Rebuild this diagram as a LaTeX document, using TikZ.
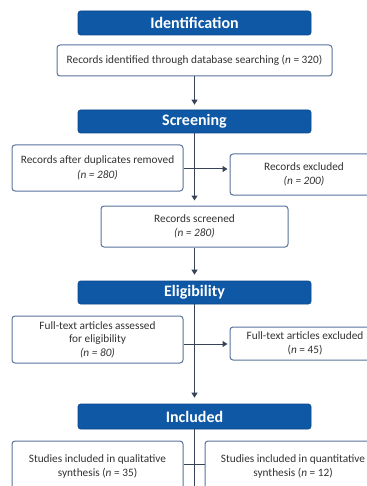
\documentclass[tikz,border=0pt]{standalone}
\usepackage{fontspec}
\setmainfont{Carlito}
\usetikzlibrary{arrows.meta}
\definecolor{banblue}{RGB}{14,88,166}
\definecolor{banedge}{RGB}{10,70,140}
\definecolor{boxedge}{RGB}{88,115,155}
\definecolor{linec}{RGB}{55,68,88}
\definecolor{txt}{RGB}{50,50,50}
\tikzset{
  banner/.style={draw=banedge, fill=banblue, rounded corners=2.5pt, line width=0.6pt,
    minimum width=233pt, inner sep=0pt, text=white, font=\fontsize{16}{18}\selectfont\bfseries},
  infobox/.style={draw=boxedge, fill=white, rounded corners=3pt, line width=1pt,
    inner sep=0pt, text=txt, align=center, font=\fontsize{11.3}{14.5}\selectfont},
  conn/.style={draw=linec, line width=1pt},
  arr/.style={conn, -{Triangle[width=6pt,length=5pt]}}
}
\begin{document}
\begin{tikzpicture}[x=1pt,y=-1pt]
\useasboundingbox (0,0) rectangle (366,486);
% banners
\node[banner, minimum height=24pt] (ident) at (194.5,23) {Identification};
\node[banner, minimum height=23pt] (screen) at (194.5,121.5) {Screening};
\node[banner, minimum height=23pt] (elig) at (194.5,292.5) {Eligibility};
\node[banner, minimum height=25pt] (incl) at (194.5,416.5) {Included};
% boxes
\node[infobox, minimum width=275pt, minimum height=31pt] (rec) at (194.5,60.5)
  {Records identified through database searching (\textit{n} = 320)};
\node[infobox, minimum width=171pt, minimum height=46pt] (dup) at (97.5,168)
  {Records after duplicates removed\\\textit{(n = 280)}};
\node[infobox, minimum width=148pt, minimum height=41pt] (exc1) at (304,174.5)
  {Records excluded\\\textit{(n = 200)}};
\node[infobox, minimum width=187pt, minimum height=41pt] (scr) at (194.5,226.5)
  {Records screened\\\textit{(n = 280)}};
\node[infobox, minimum width=171pt, minimum height=47pt,
  font=\fontsize{11.3}{13.5}\selectfont] (ass) at (97.5,339.5)
  {Full-text articles assessed\\for eligibility\\\textit{(n = 80)}};
\node[infobox, minimum width=150pt, minimum height=33pt] (exc2) at (305,343.5)
  {Full-text articles excluded\\(\textit{n} = 45)};
\node[infobox, minimum width=171pt, minimum height=51pt] (qual) at (97.5,466.5)
  {Studies included in qualitative\\synthesis (\textit{n} = 35)};
\node[infobox, minimum width=176pt, minimum height=51pt] (quant) at (293,466.5)
  {Studies included in quantitative\\synthesis (\textit{n} = 12)};
% connectors
\coordinate (bend) at (194.5,490);
\draw[arr, shorten >=5pt] (rec.south) -- (screen.north);
\draw[arr, shorten >=5pt] (screen.south) -- (scr.north);
\draw[arr, shorten >=2pt] (dup.east |- 0,169) -- (exc1.west |- 0,169);
\draw[arr, shorten >=6pt] (scr.south) -- (elig.north);
\draw[arr, shorten >=6pt] (elig.south) -- (incl.north);
\draw[arr, shorten >=2pt] (ass.east |- 0,344) -- (exc2.west |- 0,344);
\draw[conn] (incl.south) -- (bend);
\draw[conn] (qual.east |- 0,464) -- (quant.west |- 0,464);
\end{tikzpicture}
\end{document}
